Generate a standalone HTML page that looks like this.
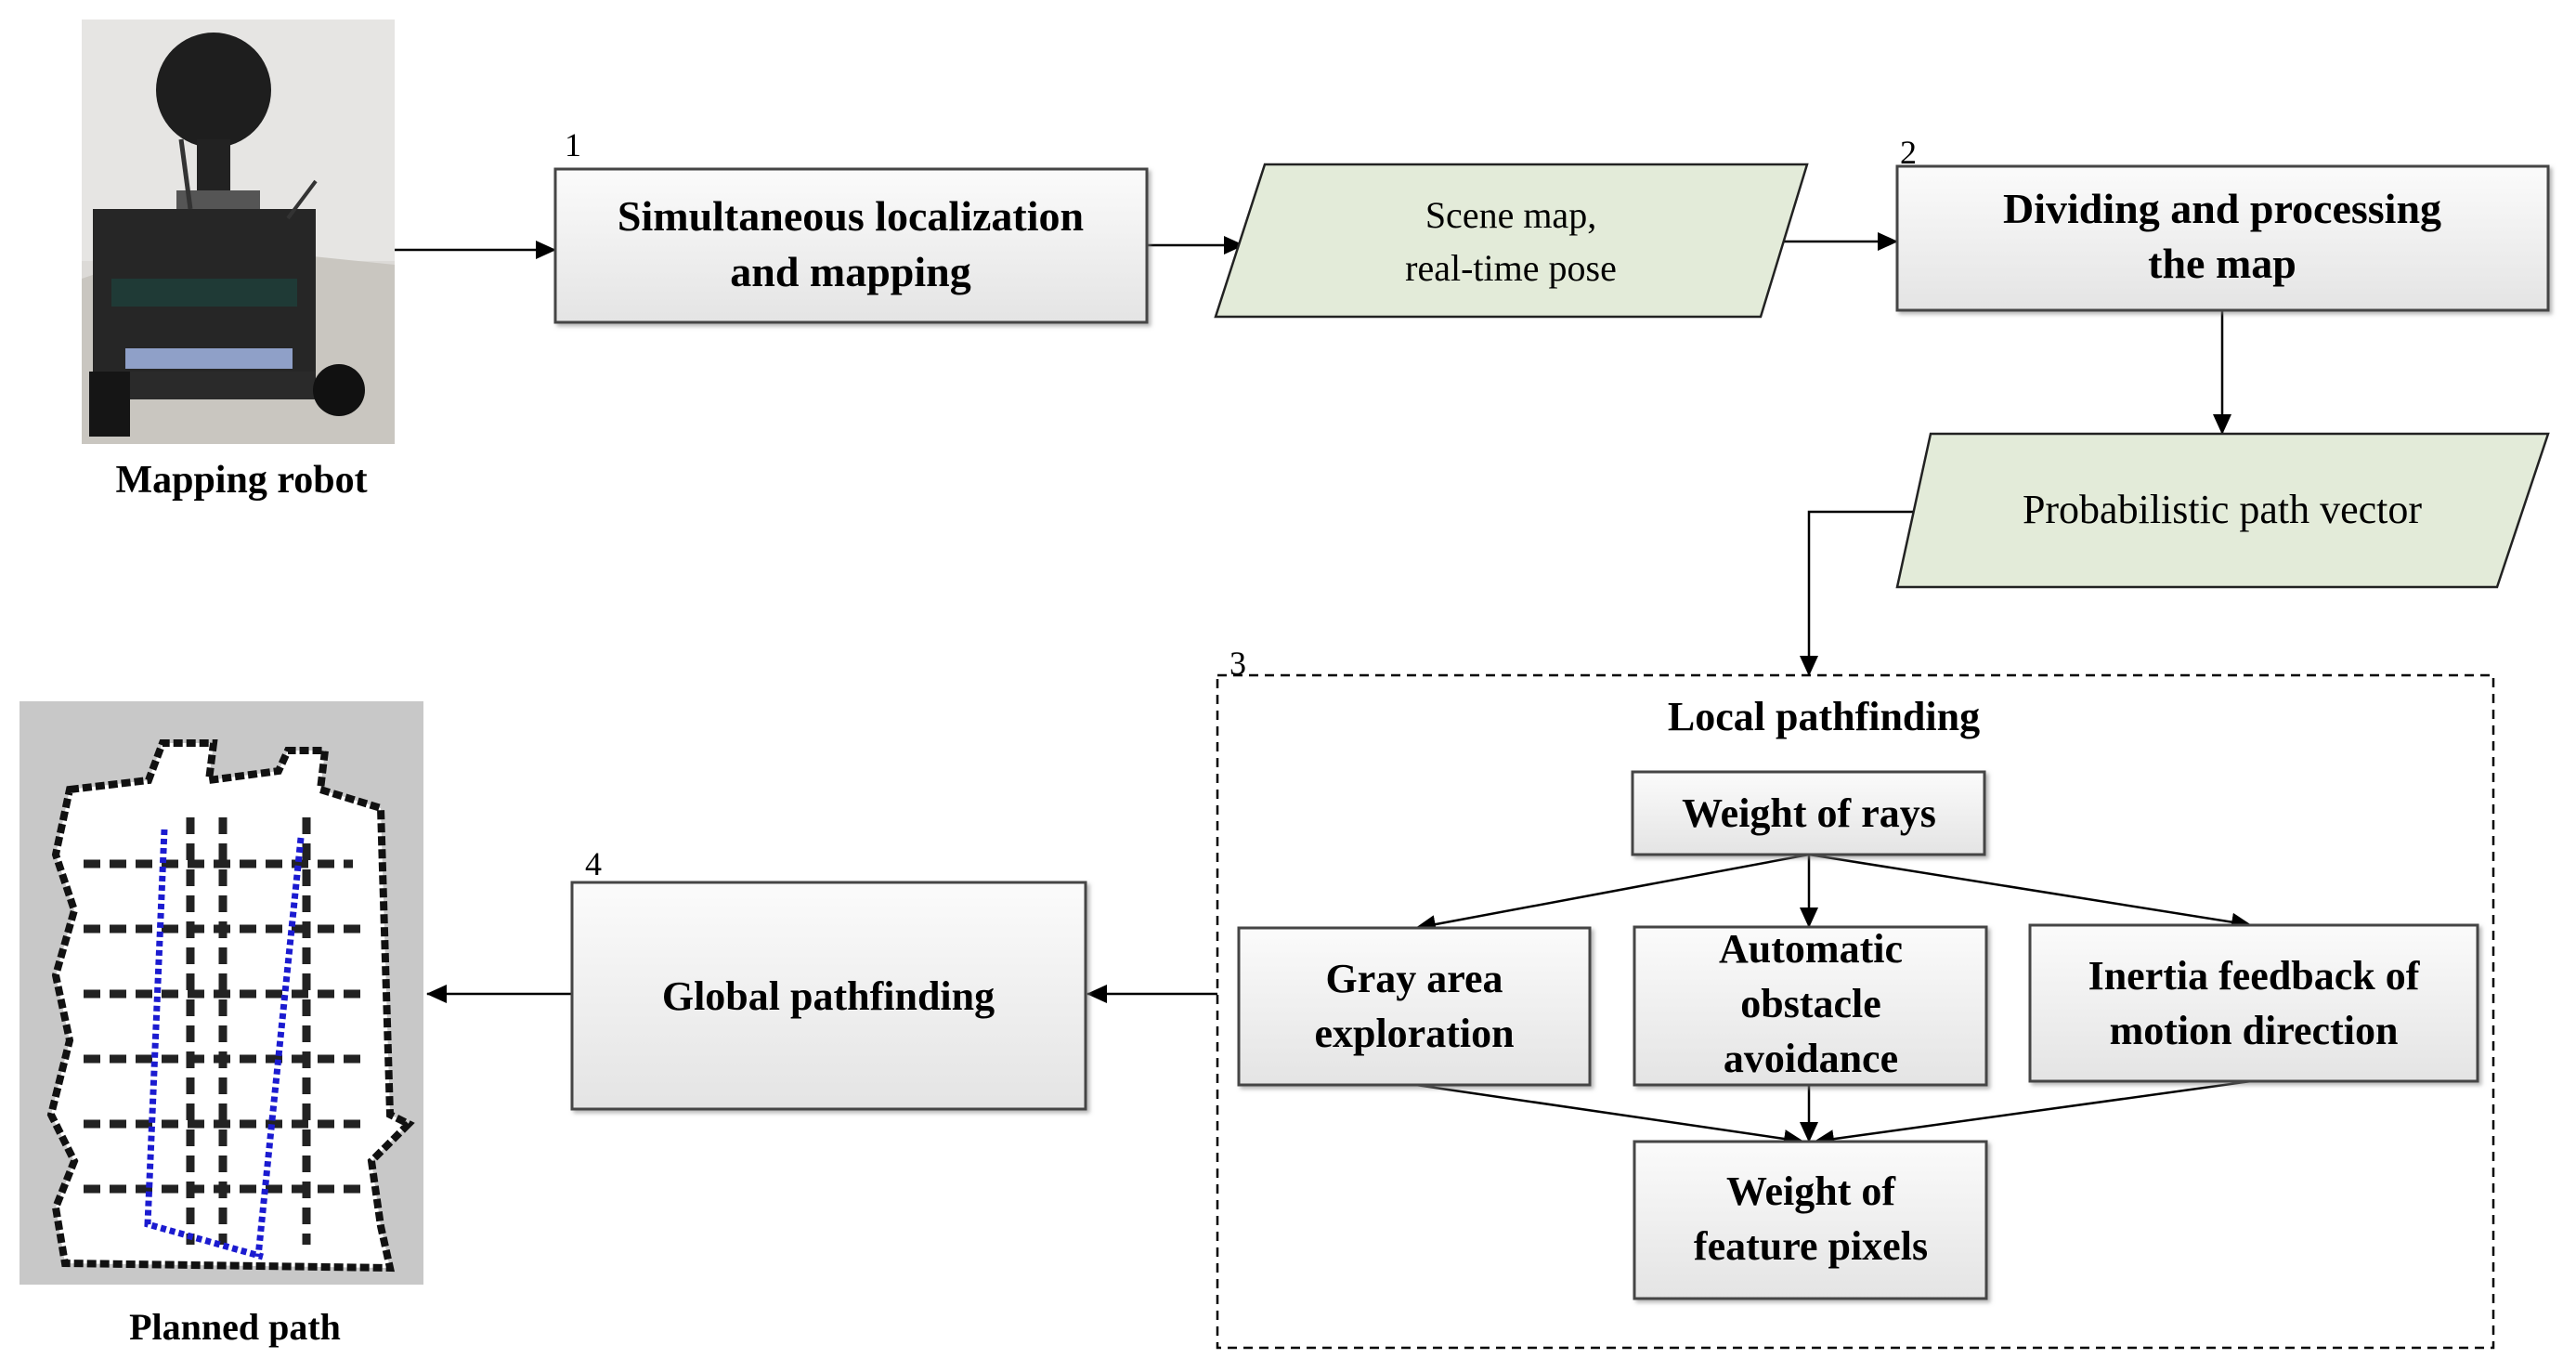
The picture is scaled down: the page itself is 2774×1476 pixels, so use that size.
<!DOCTYPE html>
<html><head><meta charset="utf-8"><style>
html,body{margin:0;padding:0;background:#fff;}
svg{display:block;}
text{font-family:"Liberation Serif",serif;}
</style></head><body>
<svg width="2774" height="1476" viewBox="0 0 2774 1476" xmlns="http://www.w3.org/2000/svg">
<defs>
<linearGradient id="g" x1="0" y1="0" x2="0" y2="1">
<stop offset="0" stop-color="#fbfbfb"/><stop offset="1" stop-color="#e4e4e4"/>
</linearGradient>
<marker id="b" markerWidth="22" markerHeight="20" refX="21" refY="10" orient="auto" markerUnits="userSpaceOnUse" viewBox="0 0 22 20">
<path d="M0,0 L22,10 L0,20 z" fill="#000"/>
</marker>
<filter id="sh"><feDropShadow dx="3" dy="3" stdDeviation="2" flood-color="#888" flood-opacity="0.6"/></filter>
</defs>

<!-- robot photo -->
<rect x="88" y="21" width="337" height="457" fill="#dcdad7"/>
<rect x="88" y="21" width="337" height="260" fill="#e6e5e3"/>
<path d="M88,300 L200,262 L425,285 L425,478 L88,478 z" fill="#c9c6c0"/>
<circle cx="230" cy="97" r="62" fill="#1e1e1e"/>
<rect x="212" y="150" width="36" height="60" fill="#222"/>
<rect x="190" y="205" width="90" height="20" fill="#555"/>
<rect x="100" y="225" width="240" height="180" fill="#262626"/>
<rect x="120" y="300" width="200" height="30" fill="#1f3a36"/>
<rect x="135" y="375" width="180" height="22" fill="#8fa0c8"/>
<rect x="120" y="400" width="220" height="30" fill="#2a2a2a"/>
<circle cx="365" cy="420" r="28" fill="#111"/>
<rect x="96" y="400" width="44" height="70" fill="#151515"/>
<line x1="205" y1="225" x2="195" y2="150" stroke="#333" stroke-width="5"/>
<line x1="310" y1="235" x2="340" y2="195" stroke="#333" stroke-width="4"/>

<text x="260" y="530" font-size="42" font-weight="bold" text-anchor="middle">Mapping robot</text>

<!-- map image -->
<rect x="21" y="755" width="435" height="628" fill="#c8c8c8"/>
<path d="M75,850 L160,840 L175,800 L230,800 L225,840 L300,830 L310,808 L350,808 L345,850 L410,870 L420,1200 L440,1210 L400,1250 L410,1320 L420,1365 L70,1360 L60,1300 L80,1250 L55,1200 L75,1120 L60,1050 L80,980 L60,920 z" fill="#fff" stroke="#111" stroke-width="8" stroke-dasharray="10 4"/>
<g stroke="#222" stroke-width="9" stroke-dasharray="18 10" fill="none">
<path d="M90,930 H380 M90,1000 H390 M90,1070 H390 M90,1140 H395 M90,1210 H395 M90,1280 H395"/>
<path d="M205,880 V1340 M240,880 V1340 M330,880 V1340"/>
</g>
<g stroke="#1b1bd0" stroke-width="7" stroke-dasharray="6 4" fill="none">
<path d="M177,893 L159,1318 L283,1353"/>
<path d="M324,902 L278,1353"/>
</g>

<text x="253" y="1442" font-size="40" font-weight="bold" text-anchor="middle">Planned path</text>

<!-- labels -->
<g font-size="36">
<text x="608" y="168">1</text>
<text x="2046" y="176">2</text>
<text x="1324" y="726">3</text>
<text x="630" y="942">4</text>
</g>

<!-- connectors top -->
<g stroke="#000" stroke-width="2.5" fill="none">
<line x1="425" y1="269" x2="598" y2="269" marker-end="url(#b)"/>
<line x1="1235" y1="264" x2="1339" y2="264" marker-end="url(#b)"/>
<line x1="1919" y1="260" x2="2043" y2="260" marker-end="url(#b)"/>
<line x1="2393" y1="334" x2="2393" y2="467" marker-end="url(#b)"/>
<polyline points="2073,551 1948,551 1948,727" marker-end="url(#b)"/>
<line x1="1311" y1="1070" x2="1171" y2="1070" marker-end="url(#b)"/>
<line x1="616" y1="1070" x2="460" y2="1070" marker-end="url(#b)"/>
</g>

<!-- box 1 -->
<rect x="598" y="182" width="637" height="165" fill="url(#g)" stroke="#444" stroke-width="3" filter="url(#sh)"/>
<text x="916" y="248" font-size="46" font-weight="bold" text-anchor="middle">Simultaneous localization</text>
<text x="916" y="308" font-size="46" font-weight="bold" text-anchor="middle">and mapping</text>

<!-- para 1 -->
<polygon points="1362,177 1946,177 1896,341 1309,341" fill="#e3ebd9" stroke="#222" stroke-width="2.5"/>
<text x="1627" y="245" font-size="40" text-anchor="middle">Scene map,</text>
<text x="1627" y="302" font-size="40" text-anchor="middle">real-time pose</text>

<!-- box 2 -->
<rect x="2043" y="179" width="701" height="155" fill="url(#g)" stroke="#444" stroke-width="3" filter="url(#sh)"/>
<text x="2393" y="240" font-size="46" font-weight="bold" text-anchor="middle">Dividing and processing</text>
<text x="2393" y="299" font-size="46" font-weight="bold" text-anchor="middle">the map</text>

<!-- para 2 -->
<polygon points="2079,467 2744,467 2689,632 2043,632" fill="#e3ebd9" stroke="#222" stroke-width="2.5"/>
<text x="2393" y="563" font-size="44" text-anchor="middle">Probabilistic path vector</text>

<!-- dashed box -->
<rect x="1311" y="727" width="1374" height="724" fill="none" stroke="#000" stroke-width="2.5" stroke-dasharray="10 7"/>
<text x="1964" y="786" font-size="44" font-weight="bold" text-anchor="middle">Local pathfinding</text>

<!-- inner arrows -->
<g stroke="#000" stroke-width="2.5" fill="none">
<line x1="1948" y1="920" x2="1525" y2="999" marker-end="url(#b)"/>
<line x1="1948" y1="920" x2="1948" y2="998" marker-end="url(#b)"/>
<line x1="1948" y1="920" x2="2424" y2="996" marker-end="url(#b)"/>
<line x1="1525" y1="1168" x2="1942" y2="1229" marker-end="url(#b)"/>
<line x1="1948" y1="1168" x2="1948" y2="1229" marker-end="url(#b)"/>
<line x1="2424" y1="1164" x2="1954" y2="1229" marker-end="url(#b)"/>
</g>

<g fill="url(#g)" stroke="#444" stroke-width="3" filter="url(#sh)">
<rect x="1758" y="831" width="379" height="89"/>
<rect x="1334" y="999" width="378" height="169"/>
<rect x="1760" y="998" width="379" height="170"/>
<rect x="2186" y="996" width="482" height="168"/>
<rect x="1760" y="1229" width="379" height="169"/>
<rect x="616" y="950" width="553" height="244"/>
</g>
<g font-size="44" font-weight="bold" text-anchor="middle">
<text x="1948" y="890">Weight of rays</text>
<text x="1523" y="1068">Gray area</text>
<text x="1523" y="1127">exploration</text>
<text x="1950" y="1036">Automatic</text>
<text x="1950" y="1095">obstacle</text>
<text x="1950" y="1154">avoidance</text>
<text x="2427" y="1065">Inertia feedback of</text>
<text x="2427" y="1124">motion direction</text>
<text x="1950" y="1297">Weight of</text>
<text x="1950" y="1356">feature pixels</text>
<text x="892" y="1087">Global pathfinding</text>
</g>
</svg>
</body></html>
